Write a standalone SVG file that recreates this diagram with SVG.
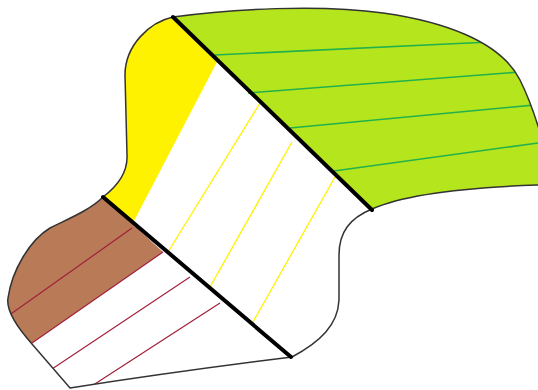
<svg xmlns="http://www.w3.org/2000/svg" width="538" height="390" viewBox="0 0 538 390">
<style>
.thick{stroke:#000;stroke-width:4;stroke-linecap:round;fill:none}
.gl{stroke:#22b14c;stroke-width:1.6;fill:none}
.yl{stroke:#fff200;stroke-width:1.3;fill:none}
.rl{stroke:#a0203a;stroke-width:1.2;fill:none}
</style>
<defs>
<path id="outline" d="M173,17 C230,9 320,4 383,13 C440,21 500,40 520,80 C530,100 537,120 545,150 L545,185 L537,185 C480,187 410,192 372,209 C350,218 339,232 339,255 L339,300 C338,325 320,342 292,357 C220,366 140,377 70,388 L32,344 C15,325 6,310 8,298 C12,270 30,240 50,228 C70,218 90,210 103,197 C115,188 128,175 127,155 L125,75 C125,45 150,22 173,17 Z"/>
<clipPath id="clip"><use href="#outline"/></clipPath>
</defs>
<use href="#outline" fill="#fff"/>
<g clip-path="url(#clip)">
<polygon id="green" points="173,17 372,210 560,210 560,0 173,0" fill="#b5e61d"/>
<polygon id="yellow" points="173,17 217,62 134,221 103,197 60,197 60,0 173,0" fill="#fff200"/>
<polygon id="brown" points="103,197 163,252 32,343 0,343 0,197" fill="#b97a57"/>
<g id="lines">
<line class="gl" x1="215" y1="55" x2="490" y2="42"/>
<line class="gl" x1="248" y1="93" x2="520" y2="72"/>
<line class="gl" x1="290" y1="128" x2="545" y2="104"/>
<line class="gl" x1="334" y1="171" x2="545" y2="142"/>
<line class="yl" x1="168" y1="252" x2="260" y2="103"/>
<line class="yl" x1="210" y1="287" x2="292" y2="142"/>
<line class="yl" x1="253" y1="322" x2="335" y2="177"/>
<line class="rl" x1="32" y1="343" x2="163" y2="252"/>
<line class="rl" x1="8" y1="316" x2="132" y2="228"/>
<line class="rl" x1="46" y1="373" x2="190" y2="277"/>
<line class="rl" x1="84" y1="391" x2="220" y2="303"/>
</g>
</g>
<use href="#outline" fill="none" stroke="#333" stroke-width="1.5"/>
<g id="dividers">
<line class="thick" x1="173" y1="17" x2="372" y2="210"/>
<line class="thick" x1="103" y1="197" x2="291" y2="357"/>
</g>
</svg>
